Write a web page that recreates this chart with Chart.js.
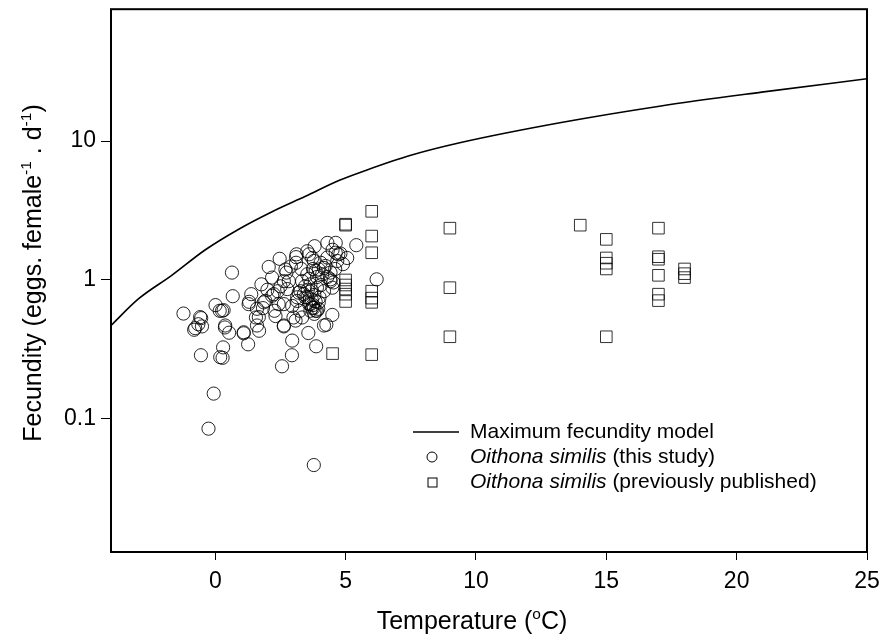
<!DOCTYPE html>
<html>
<head>
<meta charset="utf-8">
<script src="https://cdn.jsdelivr.net/npm/chart.js@4.4.0/dist/chart.umd.min.js"></script>
<style>
html,body{margin:0;padding:0;background:#fff;}
#wrap{width:884px;height:643px;}
</style>
</head>
<body>
<div id="wrap"><canvas id="c" width="884" height="643"></canvas></div>
<script>
// ---- Data ----
const modelT = [-4, -2.95, -1.67, -0.38, 0.9, 2.18, 3.46, 4.74, 5.77, 7.5, 9.42, 13.27, 17.1, 20.96, 25];
const modelF = [0.47, 0.73, 1.08, 1.65, 2.32, 3.1, 4.0, 5.2, 6.15, 7.9, 9.76, 13.6, 17.9, 22.5, 28.1];

const studyT = [-1.22,-0.54,-0.81,-0.51,0.01,0.32,0.17,0.67,0.37,0.53,0.30,-0.55,0.19,0.28,-0.06,-0.26,3.78,0.64,
 1.09,1.26,1.30,1.38,1.77,1.56,1.68,2.05,2.47,2.69,2.18,1.92,1.83,2.27,2.63,2.63,2.95,2.94,2.56,
 3.12,3.10,3.81,3.60,3.78,4.30,4.62,4.62,5.41,5.06,6.19,4.42,4.49,4.26,3.87,3.57,2.63,
 2.24,2.40,2.76,3.14,3.40,3.24,3.33,3.00,4.17,4.42,4.53,4.04,3.85,3.53,3.33,3.65,3.90,3.65,3.78,3.90,3.53,3.20,2.82,3.97,4.17,4.68,4.72,
 3.10,3.53,3.72,2.73,3.97,4.23,4.42,4.49,3.27,3.46,3.60,3.72,3.85,3.14,2.95,2.43,2.18,1.86,1.28,0.26,-0.58,-0.77,-0.65,0.38,1.09,1.60,1.67,2.31,2.63,3.08,4.17,
 3.70,3.80,3.75,3.85,3.95,3.65,3.80,3.70,4.00,3.55,3.45,3.90,4.10,3.60,3.75,4.30,4.50,4.80,4.90,3.30,2.90,2.50,2.00,1.60,4.05,4.30,4.60];
const studyF = [0.573,0.531,0.438,0.463,0.659,0.606,0.60,0.764,0.455,0.417,0.327,0.287,0.278,0.275,0.152,0.085,0.0465,1.13,
 0.413,0.344,0.696,0.79,0.93,0.537,0.431,1.24,1.42,1.19,1.04,0.707,0.627,0.60,0.67,0.463,0.366,0.287,0.239,
 1.53,1.33,1.75,1.53,1.37,1.85,1.85,1.57,1.78,1.44,1.01,0.98,0.56,0.476,0.333,0.415,0.98,
 0.79,0.83,0.86,0.707,0.79,0.60,0.537,0.537,1.22,1.13,0.96,1.33,1.16,1.10,0.98,0.93,0.88,0.67,0.63,0.60,0.75,0.81,0.98,0.69,0.83,1.37,1.53,
 1.46,1.61,1.44,1.13,1.19,1.26,1.01,0.88,0.83,0.75,0.67,0.63,0.60,0.75,0.65,0.67,0.77,0.69,0.67,0.60,0.54,0.45,0.48,0.47,0.42,0.47,0.54,0.55,0.47,0.51,0.47,
 0.72,0.78,0.66,0.70,0.62,0.60,0.57,0.84,0.75,0.85,0.90,1.05,1.10,1.02,1.20,1.45,1.65,1.55,1.30,1.20,1.25,0.90,0.85,0.62,0.92,1.05,1.20];

const pubT = [4.5, 5,5,5,5,5,5,5, 6,6,6,6,6,6,6, 9,9,9, 14, 15,15,15,15,15, 17,17,17,17,17,17, 18,18,18];
const pubF = [0.295, 2.52,2.48,1.0,0.92,0.86,0.79,0.70, 3.12,2.07,1.57,0.83,0.74,0.69,0.29, 2.36,0.88,0.39, 2.48, 1.96,1.44,1.32,1.20,0.39, 2.36,1.47,1.41,1.08,0.79,0.71, 1.20,1.11,1.04];

const xTickValues = [0, 5, 10, 15, 20, 25];
const yTickValues = [0.1, 1, 10];
const legendLabels = ['Maximum fecundity model', 'Oithona similis', ' (this study)', ' (previously published)'];

const zip = (xs, ys) => xs.map((x, i) => ({x: x, y: ys[i]}));
const FONT = 'Arial, "Liberation Sans", sans-serif';

function drawRich(ctx, parts, size, cx, cy) {
  let total = 0;
  const widths = parts.map(p => {
    const s = p.sup ? size * 0.62 : size;
    ctx.font = (p.italic ? 'italic ' : '') + s + 'px ' + FONT;
    const w = ctx.measureText(p.t).width;
    total += w;
    return w;
  });
  let x = cx - total / 2;
  ctx.textBaseline = 'alphabetic';
  ctx.textAlign = 'left';
  parts.forEach((p, i) => {
    const s = p.sup ? size * 0.62 : size;
    ctx.font = (p.italic ? 'italic ' : '') + s + 'px ' + FONT;
    ctx.fillText(p.t, x, cy + size * 0.36 - (p.sup ? size * 0.42 : 0));
    x += widths[i];
  });
}

const decor = {
  id: 'decor',
  afterDraw(chart) {
    const ctx = chart.ctx;
    const a = chart.chartArea;
    ctx.save();
    ctx.strokeStyle = '#000';
    ctx.lineWidth = 2;
    ctx.strokeRect(a.left, a.top, a.right - a.left, a.bottom - a.top);
    ctx.fillStyle = '#000';
    // x title
    drawRich(ctx, [{t: 'Temperature ('}, {t: 'o', sup: true}, {t: 'C)'}], 25, 472, 620);
    // y title
    ctx.save();
    ctx.translate(32, 273);
    ctx.rotate(-Math.PI / 2);
    drawRich(ctx, [{t: 'Fecundity (eggs. female'}, {t: '-1', sup: true}, {t: ' . d'}, {t: '-1', sup: true}, {t: ')'}], 25, 0, 0);
    ctx.restore();
    // legend
    const lx = 413, tx = 470, y1 = 432, dy = 25;
    ctx.lineWidth = 1.3;
    ctx.beginPath(); ctx.moveTo(lx, y1); ctx.lineTo(lx + 46, y1); ctx.stroke();
    ctx.lineWidth = 1;
    ctx.beginPath(); ctx.arc(432, y1 + dy, 5, 0, Math.PI * 2); ctx.stroke();
    ctx.strokeRect(428, y1 + 2 * dy - 4, 9, 9);
    ctx.textBaseline = 'middle';
    ctx.textAlign = 'left';
    ctx.font = '21px ' + FONT;
    ctx.fillText(legendLabels[0], tx, y1);
    ctx.font = 'italic 21px ' + FONT;
    ctx.fillText(legendLabels[1], tx, y1 + dy);
    ctx.fillText(legendLabels[1], tx, y1 + 2 * dy);
    const w = ctx.measureText(legendLabels[1]).width;
    ctx.font = '21px ' + FONT;
    ctx.fillText(legendLabels[2], tx + w, y1 + dy);
    ctx.fillText(legendLabels[3], tx + w, y1 + 2 * dy);
    ctx.restore();
  }
};

new Chart(document.getElementById('c'), {
  type: 'scatter',
  data: {
    datasets: [
      {
        label: 'Maximum fecundity model',
        data: zip(modelT, modelF),
        showLine: true,
        borderColor: '#000',
        borderWidth: 1.6,
        pointRadius: 0,
        cubicInterpolationMode: 'monotone',
        fill: false,
        order: 3
      },
      {
        label: 'Oithona similis (this study)',
        data: zip(studyT, studyF),
        pointStyle: 'circle',
        pointRadius: 6.6,
        borderColor: 'rgba(0,0,0,0.85)',
        backgroundColor: 'rgba(0,0,0,0)',
        borderWidth: 1,
        order: 1
      },
      {
        label: 'Oithona similis (previously published)',
        data: zip(pubT, pubF),
        pointStyle: 'rect',
        pointRadius: 8.2,
        borderColor: 'rgba(0,0,0,0.8)',
        backgroundColor: 'rgba(0,0,0,0)',
        borderWidth: 1,
        order: 2
      }
    ]
  },
  options: {
    responsive: false,
    animation: false,
    devicePixelRatio: 1,
    layout: {padding: {left: 0, right: 17, top: 7, bottom: 0}},
    plugins: {legend: {display: false}, tooltip: {enabled: false}},
    scales: {
      x: {
        type: 'linear',
        min: -4, max: 25,
        afterFit(s) { s.height = 91; s.paddingLeft = 0; s.paddingRight = 0; },
        afterBuildTicks(s) { s.ticks = xTickValues.map(v => ({value: v})); },
        border: {display: false},
        grid: {drawOnChartArea: false, drawTicks: true, tickLength: 8, color: '#000', lineWidth: 1},
        ticks: {color: '#000', font: {family: FONT, size: 23}, padding: 8, maxRotation: 0, callback: v => String(v)}
      },
      y: {
        type: 'logarithmic',
        min: 0.011, max: 89,
        afterFit(s) { s.width = 111; s.paddingTop = 0; s.paddingBottom = 0; },
        afterBuildTicks(s) { s.ticks = yTickValues.map(v => ({value: v})); },
        border: {display: false},
        grid: {drawOnChartArea: false, drawTicks: true, tickLength: 10, color: '#000', lineWidth: 1},
        ticks: {color: '#000', font: {family: FONT, size: 23}, padding: 5, callback: v => String(v)}
      }
    }
  },
  plugins: [decor]
});
</script>
</body>
</html>
